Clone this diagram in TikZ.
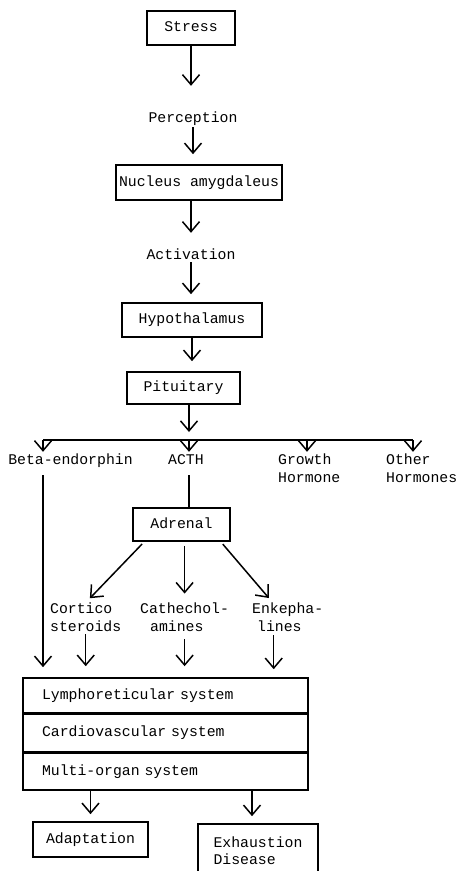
\documentclass[tikz,border=0pt]{standalone}
\usepackage{fontspec}
\setmainfont{Liberation Mono}
\usetikzlibrary{arrows.meta, positioning}

\begin{document}
\begin{tikzpicture}[
    x=1pt, y=-1pt,
    every node/.style={font=\fontsize{14.8}{17.5}\selectfont, inner sep=0pt},
    box/.style={draw, line width=1.6pt, text height=10pt, text depth=3pt},
    sysrow/.style={box, minimum width=285pt, text width=247pt, align=left},
    lbl/.style={anchor=base, text height=10pt, text depth=3pt},
    lbl2/.style={anchor=base west, align=left},
    arr/.style={line width=1.5pt, -{Straight Barb[length=10pt, width=17pt, line width=1.5pt]}},
    line/.style={line width=1.5pt},
  ]
    \useasboundingbox (0,0) rectangle (457,871);
    \clip (0,0) rectangle (457,871);

    % upper chain
    \node[box, minimum width=88pt, minimum height=34pt] (stress) at (191,28) {Stress};
    \node[lbl] (percep) at (193,122) {Perception};
    \node[box, minimum width=166pt, minimum height=35pt] (nucleus) at (199,182.5) {Nucleus amygdaleus};
    \node[lbl] (activ) at (191,259) {Activation};
    \node[box, minimum width=140pt, minimum height=34pt] (hypo) at (192,320) {Hypothalamus};
    \node[box, minimum width=113pt, minimum height=32pt] (pitu) at (183.5,388) {Pituitary};

    \draw[arr, shorten >=26pt] (stress) -- (stress |- percep.north);
    \draw[arr, shorten <=2pt, shorten >=10pt] (percep) -- (percep |- nucleus.north);
    \draw[arr, shorten >=16pt] (nucleus.south -| activ) -- (activ.north);
    \draw[arr, shorten >=8pt] (activ) -- (activ |- hypo.north);
    \draw[arr, shorten >=10pt] (hypo) -- (hypo |- pitu.north);

    % branching line below the pituitary
    \coordinate (busL) at (43,440);
    \coordinate (busA) at (189,440);
    \coordinate (busG) at (307,440);
    \coordinate (busR) at (413,440);
    \draw[arr, shorten >=8pt] (pitu.south -| busA) -- (busA);
    \draw[line] (busL) -- (busR);

    % hormones (two-line labels sit on their last line)
    \node[lbl] (beta) at (70.5,464) {Beta-endorphin};
    \node[lbl] (acth) at (186,464) {ACTH};
    \node[lbl2] (growth) at (278,482) {Growth\\Hormone};
    \node[lbl2] (other) at (386,482) {Other\\Hormones};

    \foreach \b in {busL, busA, busG, busR} {
      \draw[arr, shorten >=2pt] (\b) -- (\b |- beta.north);
    }

    % adrenal and its products
    \node[box, minimum width=97pt, minimum height=33pt] (adrenal) at (181.5,524.5) {Adrenal};
    \draw[line, shorten <=8pt] (acth.south -| busA) -- (busA |- adrenal.north);

    \node[lbl2] (cortico) at (50,631) {Cortico\\steroids};
    \node[lbl2] (catecho) at (140,631) {Cathechol-\\\hspace*{10pt}amines};
    \node[lbl2] (enkeph) at (252,631) {Enkepha-\\\hspace*{5pt}lines};

    \draw[arr, shorten <=3pt, shorten >=6pt] ([xshift=12pt]adrenal.south west) -- (cortico.north);
    \draw[arr, shorten <=4pt, shorten >=9pt] (adrenal.south -| catecho.north) -- (catecho.north);
    \draw[arr, shorten <=3pt, shorten >=6pt] ([xshift=-10pt]adrenal.south east) -- ([xshift=-15pt]enkeph.north);

    % target systems
    \node[sysrow, minimum height=35pt] (lympho) at (165.5,695.5) {Lymphoreticular system};
    \node[sysrow, minimum height=37pt, below=0pt of lympho] (cardio) {Cardiovascular system};
    \node[sysrow, minimum height=37pt, below=0pt of cardio] (multi) {Multi-organ system};

    \draw[arr, shorten <=8pt, shorten >=10pt] (busL |- beta.south) -- (busL |- lympho.north);
    \draw[arr, shorten >=11pt] ([yshift=-3pt]cortico.base) -- (cortico.base |- lympho.north);
    \draw[arr, shorten >=11pt] ([yshift=-8pt]catecho.base) -- (catecho.base |- lympho.north);
    \draw[arr, shorten >=8pt] ([xshift=-14pt, yshift=-4pt]enkeph.base) -- ([xshift=-14pt]enkeph.base |- lympho.north);

    % outcomes
    \node[box, minimum width=115pt, minimum height=35pt] (adapt) at (90.5,839.5) {Adaptation};
    \node[box, minimum width=120pt, minimum height=53pt, align=left, text height=, text depth=] (exhaust) at (258,850.5) {Exhaustion\\Disease};

    \draw[arr, shorten >=7pt] (adapt.north |- multi.south) -- (adapt.north);
    \draw[arr, shorten >=7pt] ([xshift=-6pt]exhaust.north |- multi.south) -- ([xshift=-6pt]exhaust.north);
  \end{tikzpicture}
\end{document}
